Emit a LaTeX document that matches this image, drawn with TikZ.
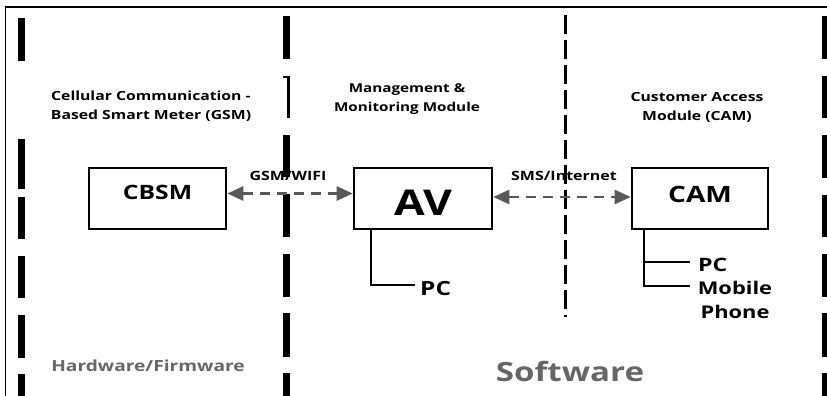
\documentclass[tikz,border=0pt]{standalone}
\usepackage{fontspec}
\setmainfont{Open Sans}[FakeStretch=1.25]
\usetikzlibrary{arrows.meta}
\definecolor{arrgray}{HTML}{595959}
\definecolor{txtgray}{HTML}{666666}
\begin{document}
\begin{tikzpicture}[x=1pt,y=-1pt,
  fsz/.style={font=\fontsize{#1}{#1}\selectfont\bfseries},
  thickdash/.style={line width=7pt,black},
  box/.style={draw,line width=1.6pt,minimum width=137pt,minimum height=61pt,inner sep=0pt},
  garrow/.style={draw=arrgray,line width=2.6pt,dash pattern=on 10pt off 7pt,
     {Triangle[length=16pt,width=14pt,fill=arrgray]}-{Triangle[length=16pt,width=14pt,fill=arrgray]},shorten <=0.5pt,shorten >=0.5pt},
  heading/.style={align=center,inner sep=0pt,font=\fontsize{12.6}{19}\selectfont\bfseries},
  lbl/.style={inner sep=0pt,fsz=12.8},
  conn/.style={line width=1.6pt,black}]
\useasboundingbox (0,0) rectangle (827,396);
% frame
\draw[line width=1.5pt] (5.5,396) -- (5.5,7) -- (827,7);
% separators
\foreach \a/\b in {18/61,139/189,197/239,256/298,315/358,374/396}
  \draw[thickdash] (21.5,\a) -- (21.5,\b);
\foreach \a/\b in {16/59,135/177,194/237,254/297,313/357,373/396}
  \draw[thickdash] (286.5,\a) -- (286.5,\b);
\draw[line width=3pt] (288.5,76) -- (288.5,118);
\draw[line width=2pt] (283,77) -- (290,77);
\foreach \a/\b in {16/59,76/118,135/178,195/237,254/297,313/357,373/396}
  \draw[thickdash] (825.5,\a) -- (825.5,\b);
\draw[line width=3pt,dash pattern=on 19pt off 6pt] (565,15) -- (565,317);
% headings
\node[heading] (hgsm) at (151,106) {Cellular Communication -\\Based Smart Meter (GSM)};
\node[heading,font=\fontsize{12.2}{19}\selectfont\bfseries] (hmm) at (407,99) {Management \&\\Monitoring Module};
\node[heading] (hcam) at (697,107) {Customer Access\\Module (CAM)};
% boxes
\node[box,fsz=19.8,text depth=13pt] (cbsm) at (157.5,198.5) {CBSM};
\node[box,minimum width=138pt,fsz=35.5,text height=34pt] (av) at (423,198.5) {AV};
\node[box,minimum width=136pt,fsz=22.5,text depth=8pt] (cam) at (700,198.5) {CAM};
% arrows
\draw[garrow] ([yshift=5pt]cbsm.east) -- ([yshift=5pt]av.west);
\draw[garrow] ([yshift=1.5pt]av.east) -- ([yshift=1.5pt]cam.west);
\node[lbl] (l1) at (288,176) {GSM/WIFI};
\node[lbl] (l2) at (564,176) {SMS/Internet};
% PC branches
\node[anchor=west,inner sep=0pt,fsz=19.5] (avpc) at (420,288.5) {PC};
\coordinate (avpcend) at (415,285);
\draw[conn] ([xshift=18pt]av.south west) |- (avpcend);
\node[anchor=west,inner sep=0pt,fsz=18.5] (campc) at (698,265) {PC};
\node[align=center,inner sep=0pt,font=\fontsize{17.5}{24}\selectfont\bfseries] (cammob) at (735,300) {Mobile\\Phone};
\coordinate (campcend) at (690,262);
\coordinate (cammobend) at (690,286);
\draw[conn] ([xshift=13pt]cam.south west) |- (cammobend);
\draw[conn] ([xshift=13pt]cam.south west) |- (campcend);
% layer labels
\node[inner sep=0pt,text=txtgray,fsz=15.3] (hw) at (148,366) {Hardware/Firmware};
\node[inner sep=0pt,text=txtgray,fsz=26.5] (sw) at (570,371) {Software};
\end{tikzpicture}
\end{document}
